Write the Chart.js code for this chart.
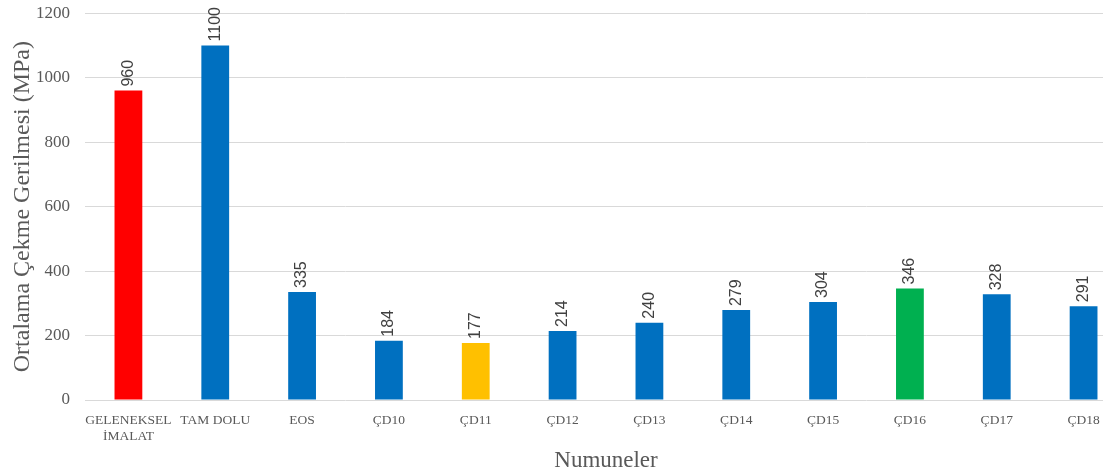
<!DOCTYPE html>
<html>
<head>
<meta charset="utf-8">
<script src="https://cdn.jsdelivr.net/npm/chart.js@4"></script>
<style>
  html, body { margin: 0; padding: 0; background: #fff; overflow: hidden; }
  #wrap { width: 1127px; height: 475px; position: relative; }
</style>
</head>
<body>
<div id="wrap"><canvas id="stressChart"></canvas></div>
<script>
// samples and mean tensile stress (MPa)
const categories = [['GELENEKSEL', 'İMALAT'], 'TAM DOLU', 'EOS', 'ÇD10', 'ÇD11', 'ÇD12',
    'ÇD13', 'ÇD14', 'ÇD15', 'ÇD16', 'ÇD17', 'ÇD18'];
const stressValues = [960, 1100, 335, 184, 177, 214, 240, 279, 304, 346, 328, 291];
const barColors = ['#FF0000', '#0070C0', '#0070C0', '#0070C0', '#FFC000', '#0070C0',
    '#0070C0', '#0070C0', '#0070C0', '#00B050', '#0070C0', '#0070C0'];
const yTicks = [0, 200, 400, 600, 800, 1000, 1200];

const serif = '"Liberation Serif", "Times New Roman", serif';

// value labels written vertically above each bar
const barValueLabels = {
    id: 'barValueLabels',
    afterDatasetsDraw(chart) {
        const ctx = chart.ctx;
        const meta = chart.getDatasetMeta(0);
        ctx.save();
        ctx.font = '16px "Liberation Sans", Arial, sans-serif';
        ctx.fillStyle = '#404040';
        ctx.textAlign = 'left';
        ctx.textBaseline = 'middle';
        meta.data.forEach((bar, i) => {
            ctx.save();
            ctx.translate(bar.x, bar.y - 4);
            ctx.rotate(-Math.PI / 2);
            ctx.fillText(String(stressValues[i]), 0, 0);
            ctx.restore();
        });
        ctx.restore();
    }
};

const ctx = document.getElementById('stressChart').getContext('2d');

const stressChart = new Chart(ctx, {
    type: 'bar',
    data: {
        labels: categories,
        datasets: [{
            data: stressValues,
            backgroundColor: barColors,
            barPercentage: 0.32,
            categoryPercentage: 1.0
        }]
    },
    options: {
        responsive: true,
        maintainAspectRatio: false,
        animation: false,
        layout: { padding: 0 },
        plugins: {
            legend: { display: false },
            tooltip: { enabled: false }
        },
        scales: {
            x: {
                grid: { display: false },
                border: { display: false },
                ticks: {
                    color: '#595959',
                    font: { family: serif, size: 13.5 },
                    padding: 4,
                    maxRotation: 0,
                    autoSkip: false
                },
                title: {
                    display: true,
                    text: 'Numuneler',
                    color: '#595959',
                    font: { family: serif, size: 23 },
                    padding: { top: 2, bottom: 0 }
                },
                afterFit(scale) { scale.height = 75; }
            },
            y: {
                min: 0,
                max: 1200,
                afterBuildTicks(scale) { scale.ticks = yTicks.map(v => ({ value: v })); },
                grid: { color: '#d9d9d9', drawTicks: true, tickLength: 12, tickColor: 'rgba(0,0,0,0)' },
                border: { display: false },
                ticks: {
                    color: '#595959',
                    font: { family: serif, size: 17 },
                    padding: 3,
                    callback: v => String(v)
                },
                title: {
                    display: true,
                    text: 'Ortalama Çekme Gerilmesi (MPa)',
                    color: '#595959',
                    font: { family: serif, size: 24 },
                    padding: { top: 8, bottom: 4 }
                },
                afterFit(scale) { scale.width = 85; }
            }
        }
    },
    plugins: [barValueLabels]
});
</script>
</body>
</html>
